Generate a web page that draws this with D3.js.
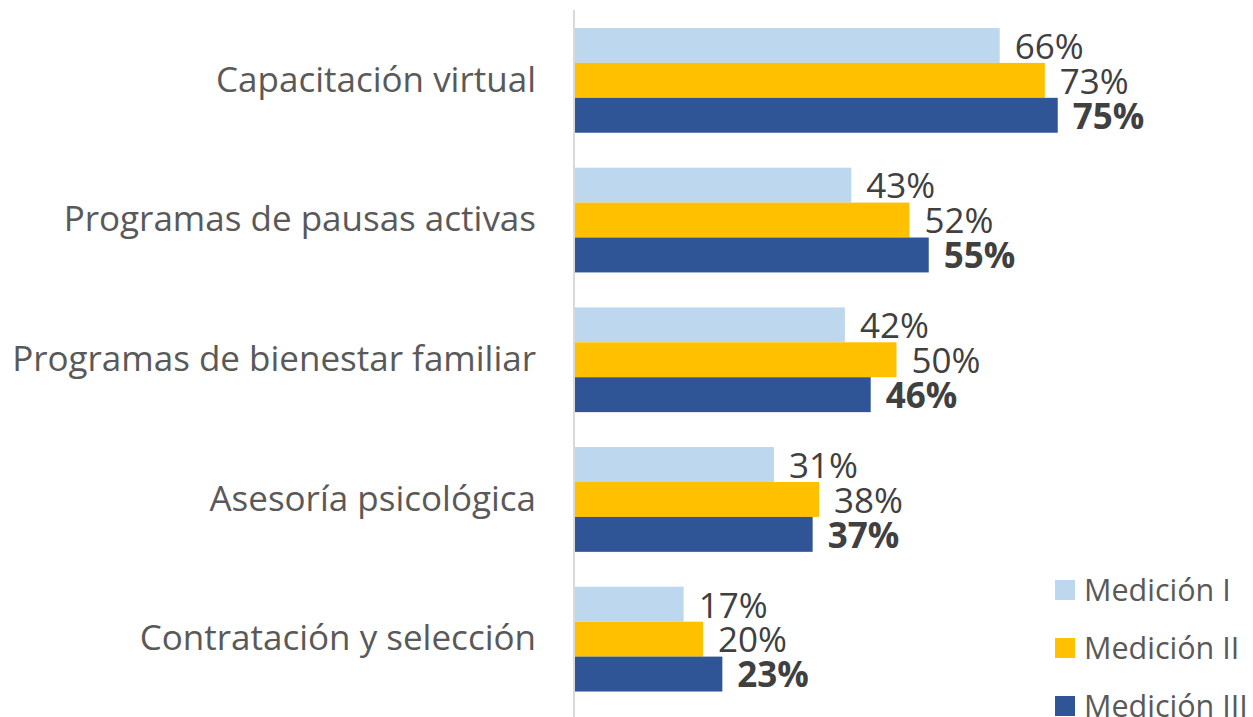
<!DOCTYPE html>
<html>
<head>
<meta charset="utf-8">
<script src="https://cdn.jsdelivr.net/npm/d3@7"></script>
<style>
  body { margin: 0; background: #fff; }
  text { font-family: "Open Sans", "Noto Sans", sans-serif; }
</style>
</head>
<body>
<div class="canva"></div>
<script>
// data
var categories = [
  "Capacitación virtual",
  "Programas de pausas activas",
  "Programas de bienestar familiar",
  "Asesoría psicológica",
  "Contratación y selección"
];
var seriesNames = ["Medición I", "Medición II", "Medición III"];
var medicion1 = [66, 43, 42, 31, 17];
var medicion2 = [73, 52, 50, 38, 20];
var medicion3 = [75, 55, 46, 37, 23];
var colors = ["#BDD7EE", "#FFC000", "#2F5597"];

var allSeries = [medicion1, medicion2, medicion3];

const width = 1253, height = 717;
const svg = d3.select(".canva").append("svg")
    .attr("width", width)
    .attr("height", height);

// axis line sits at x = 574
var x = d3.scaleLinear()
    .domain([0, 100])
    .range([574, 574 + 645]);

var y = d3.scaleBand()
    .domain(categories)
    .range([10.5, 709])
    .paddingInner(0.25)
    .paddingOuter(0.125);

var ySub = d3.scaleBand()
    .domain(seriesNames)
    .range([0, y.bandwidth()]);

// bars + value labels
allSeries.forEach(function (vals, s) {
  svg.append("g").selectAll("rect")
    .data(vals)
    .enter()
    .append("rect")
    .attr("x", x(0))
    .attr("y", (d, i) => y(categories[i]) + ySub(seriesNames[s]))
    .attr("width", d => x(d) - x(0))
    .attr("height", ySub.bandwidth())
    .attr("fill", colors[s]);

  svg.append("g").selectAll("text")
    .data(vals)
    .enter()
    .append("text")
    .attr("x", d => x(d) + 15)
    .attr("y", (d, i) => y(categories[i]) + ySub(seriesNames[s]) + ySub.bandwidth() / 2)
    .attr("dy", "0.38em")
    .style("font-size", "35px")
    .style("font-weight", s == 2 ? "bold" : "normal")
    .attr("fill", "#404040")
    .text(d => d + "%");
});

// category axis (line only, labels to the left)
var yAxis = d3.axisLeft(y).tickSize(0).tickPadding(38);
var gy = svg.append("g")
    .attr("transform", "translate(" + x(0) + ",0)")
    .call(yAxis);
gy.select(".domain").remove();
gy.selectAll("text")
    .style("font-size", "35px")
    .attr("fill", "#595959")
    .attr("dy", "0.32em");

svg.append("line")
    .attr("x1", x(0)).attr("x2", x(0))
    .attr("y1", 10).attr("y2", height)
    .attr("stroke", "#d9d9d9")
    .attr("stroke-width", 2);

// legend
var legend = svg.append("g").selectAll("g")
    .data(seriesNames)
    .enter()
    .append("g")
    .attr("transform", (d, i) => "translate(1055," + (590 + i * 58) + ")");

legend.append("rect")
    .attr("x", 0).attr("y", -10)
    .attr("width", 20).attr("height", 20)
    .attr("fill", (d, i) => colors[i]);

legend.append("text")
    .attr("x", 29)
    .attr("dy", "0.36em")
    .style("font-size", "30.5px")
    .attr("fill", "#595959")
    .text(d => d);
</script>
</body>
</html>
